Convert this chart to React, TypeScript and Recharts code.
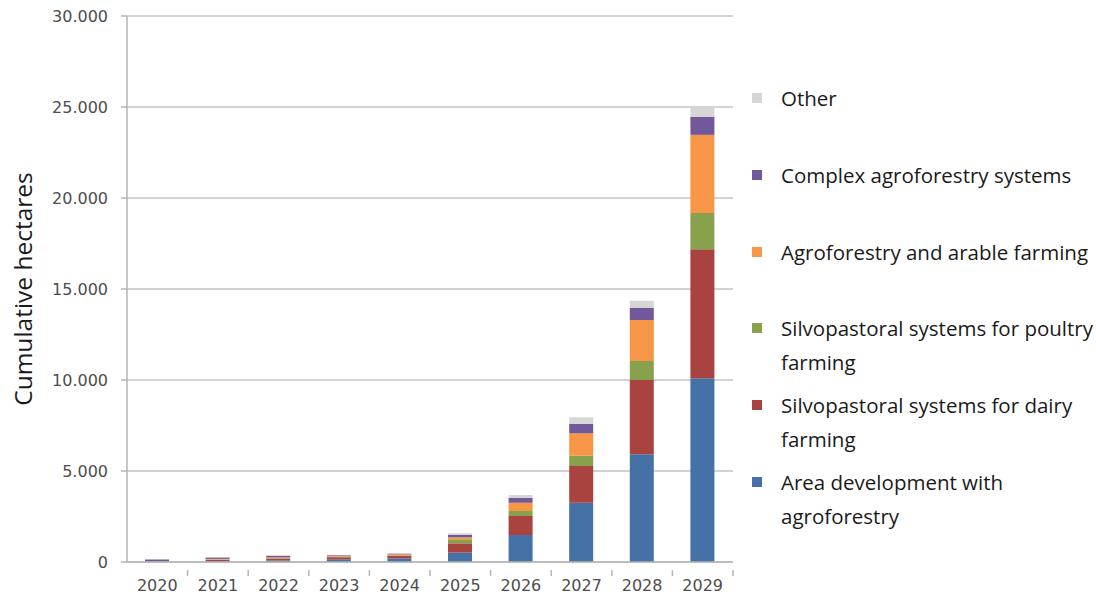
import { Bar, BarChart, CartesianGrid, XAxis, YAxis } from "recharts"

const years = ["2020", "2021", "2022", "2023", "2024", "2025", "2026", "2027", "2028", "2029"]

// cumulative hectares per system, bottom to top of each stack
const areaDevelopment = [10, 30, 80, 150, 200, 513, 1484, 3260, 5918, 10100]
const dairyFarming = [20, 80, 100, 110, 130, 513, 1044, 2016, 4083, 7090]
const poultryFarming = [5, 20, 30, 20, 30, 220, 275, 566, 1044, 1980]
const arableFarming = [5, 40, 40, 40, 60, 110, 458, 1230, 2253, 4300]
const complexSystems = [100, 80, 90, 50, 40, 146, 275, 510, 676, 1000]
const other = [10, 20, 30, 20, 20, 75, 150, 370, 384, 530]

const yTicks = [0, 5000, 10000, 15000, 20000, 25000, 30000]

const series = [
  { key: "area", name: "Area development with\nagroforestry", values: areaDevelopment, color: "#4571a6" },
  { key: "dairy", name: "Silvopastoral systems for dairy\nfarming", values: dairyFarming, color: "#a8433f" },
  { key: "poultry", name: "Silvopastoral systems for poultry\nfarming", values: poultryFarming, color: "#87a14c" },
  { key: "arable", name: "Agroforestry and arable farming", values: arableFarming, color: "#f79646" },
  { key: "complex", name: "Complex agroforestry systems", values: complexSystems, color: "#71589a" },
  { key: "other", name: "Other", values: other, color: "#d6d6d6" },
]

const data = years.map((year, i) => {
  const row: Record<string, string | number> = { year }
  series.forEach((s) => {
    row[s.key] = s.values[i]
  })
  return row
})

const W = 1096
const H = 601
const margin = { top: 16, right: 363, bottom: 0, left: 0 }
const xAxisHeight = 39
const yAxisWidth = 127
const plotW = W - margin.left - margin.right - yAxisWidth
const band = plotW / years.length

const fmt = (v: number) => v.toLocaleString("de-DE")

// year label under the bar, tick mark on the right edge of its category
const YearTick = (props: any) => {
  const { x, y, payload } = props
  return (
    <g>
      <line x1={x + band / 2} x2={x + band / 2} y1={y} y2={y + 6} stroke="#b5b5b5" strokeWidth={1.5} />
      <text x={x} y={y + 21} textAnchor="middle" fill="#4d4d4d" fontSize={16} fontFamily="DejaVu Sans">
        {payload.value}
      </text>
    </g>
  )
}

const AxisTitle = (props: any) => {
  const { viewBox } = props
  const cx = 22
  const cy = viewBox.y + viewBox.height / 2
  return (
    <text
      x={cx}
      y={cy}
      transform={`rotate(-90 ${cx} ${cy})`}
      textAnchor="middle"
      dominantBaseline="central"
      fill="#1a1a1a"
      fontSize={24.5}
      fontFamily="Open Sans"
    >
      Cumulative hectares
    </text>
  )
}

function Legend() {
  const items = [...series].reverse()
  return (
    <div style={{ position: "absolute", left: 0, top: 0 }}>
      {items.map((s, i) => {
        const cy = 98 + i * 76.8
        return (
          <div key={s.key}>
            <div
              style={{
                position: "absolute",
                left: 752,
                top: cy - 5,
                width: 10,
                height: 10,
                background: s.color,
              }}
            />
            <div
              style={{
                position: "absolute",
                left: 781,
                top: cy - 17,
                whiteSpace: "pre",
                fontFamily: "Open Sans",
                fontSize: 20.5,
                lineHeight: "34px",
                color: "#1a1a1a",
              }}
            >
              {s.name}
            </div>
          </div>
        )
      })}
    </div>
  )
}

export default function App() {
  return (
    <div style={{ position: "absolute", left: 0, top: 0, width: W, height: H, background: "#fff", overflow: "hidden" }}>
      <BarChart width={W} height={H} data={data} margin={margin} barSize={24}>
        <CartesianGrid vertical={false} stroke="#c4c4c4" strokeWidth={1.5} />
        <XAxis
          dataKey="year"
          tick={<YearTick />}
          tickLine={false}
          axisLine={{ stroke: "#b5b5b5", strokeWidth: 1.5 }}
          interval={0}
          height={xAxisHeight}
        />
        <YAxis
          width={yAxisWidth}
          domain={[0, 30000]}
          ticks={yTicks}
          tickFormatter={fmt}
          tickSize={6}
          tickMargin={13}
          tickLine={{ stroke: "#b5b5b5", strokeWidth: 1.5 }}
          axisLine={{ stroke: "#b5b5b5", strokeWidth: 1.5 }}
          tick={{ fill: "#4d4d4d", fontSize: 16, fontFamily: "DejaVu Sans" }}
          label={<AxisTitle />}
        />
        {series.map((s) => (
          <Bar key={s.key} dataKey={s.key} name={s.name} stackId="a" fill={s.color} isAnimationActive={false} />
        ))}
      </BarChart>
      <Legend />
    </div>
  )
}
